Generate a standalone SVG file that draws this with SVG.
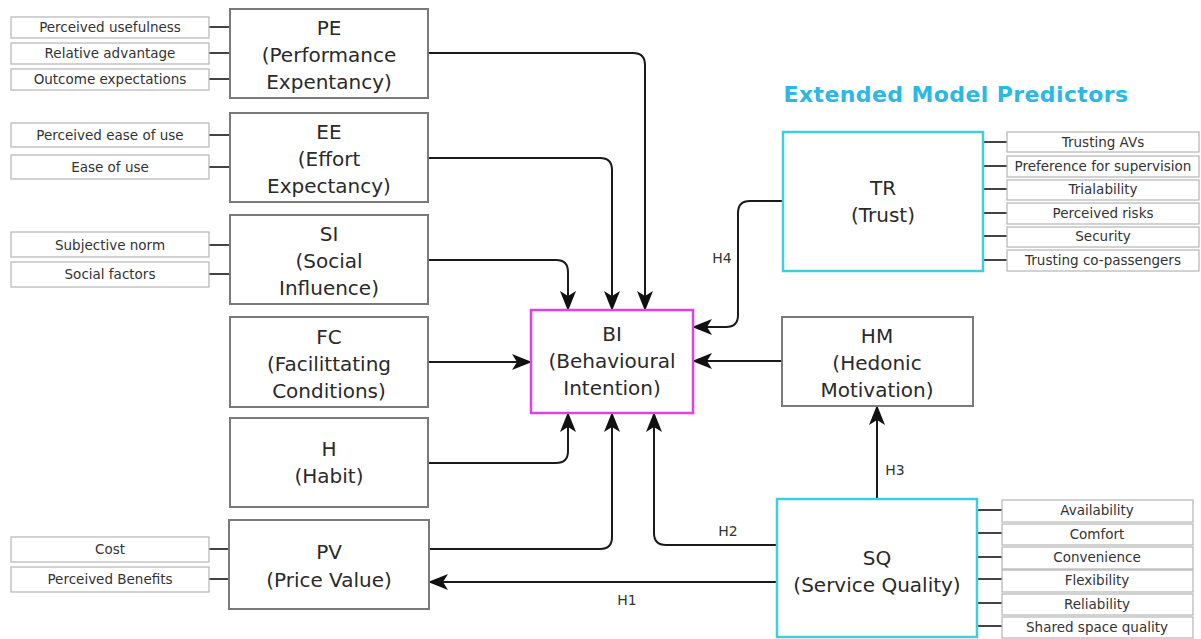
<svg xmlns="http://www.w3.org/2000/svg" width="1201" height="639" viewBox="0 0 1201 639">
<style>
.box{fill:#fff;stroke:#7a7a7a;stroke-width:2}
.ext{fill:#fff;stroke:#3fcde0;stroke-width:2.5}
.bi{fill:#fff;stroke:#e040e8;stroke-width:2.5}
.attr{fill:#fff;stroke:#b5b5b5;stroke-width:1.2}
.t{font-family:"DejaVu Sans","Liberation Sans",Arial,sans-serif;font-size:20px;fill:#2a2a2a;text-anchor:middle}
.a{font-family:"DejaVu Sans","Liberation Sans",Arial,sans-serif;font-size:13.5px;fill:#333;text-anchor:middle}
.lbl{font-family:"DejaVu Sans","Liberation Sans",Arial,sans-serif;font-size:14px;fill:#333;text-anchor:middle}
.stub{stroke:#444;stroke-width:2;fill:none}
.c{stroke:#1a1a1a;stroke-width:2;fill:none;marker-end:url(#arr)}
</style>
<defs>
<marker id="arr" markerUnits="userSpaceOnUse" viewBox="0 0 20 16" refX="19" refY="8" markerWidth="20" markerHeight="16" orient="auto">
<path d="M0,0 L20,8 L0,16 L5,8 Z" fill="#111"/>
</marker>
</defs>
<rect width="1201" height="639" fill="#fff"/>
<text x="956" y="102" font-family="DejaVu Sans,Liberation Sans,Arial,sans-serif" font-size="22" font-weight="bold" letter-spacing="0.4" fill="#2bb8e4" text-anchor="middle">Extended Model Predictors</text>

<g id="connectors">
<path class="c" d="M428,53 H633 Q645,53 645,65 V310"/>
<path class="c" d="M428,158 H600 Q612,158 612,170 V310"/>
<path class="c" d="M428,260 H556 Q568,260 568,272 V310"/>
<path class="c" d="M428,362 H531"/>
<path class="c" d="M428,463 H556 Q568,463 568,451 V413"/>
<path class="c" d="M429,549 H600 Q612,549 612,537 V413"/>
<path class="c" d="M777,545 H666 Q654,545 654,533 V413"/>
<path class="c" d="M777,582 H429"/>
<path class="c" d="M782,361 H693"/>
<path class="c" d="M877,499 V406"/>
<path class="c" d="M783,201 H750 Q738,201 738,213 V315 Q738,327 726,327 H693"/>
<text class="lbl" x="722" y="263">H4</text>
<text class="lbl" x="728" y="536">H2</text>
<text class="lbl" x="895" y="475">H3</text>
<text class="lbl" x="627" y="605">H1</text>
<g class="stub">
<path d="M209,27 H230 M209,53 H230 M209,79 H230"/>
<path d="M209,135 H230 M209,167 H230"/>
<path d="M209,245 H230 M209,274 H230"/>
<path d="M209,549 H229 M209,579 H229"/>
<path d="M983,142 H1007 M983,166 H1007 M983,189 H1007 M983,213 H1007 M983,236 H1007 M983,260 H1007"/>
<path d="M977,510 H1002 M977,533 H1002 M977,557 H1002 M977,579 H1002 M977,603 H1002 M977,626 H1002"/>
</g>
</g>

<g id="PE"><rect class="box" x="230" y="9" width="198" height="89"/>
<text class="t" x="329" y="35">PE</text><text class="t" x="329" y="62">(Performance</text><text class="t" x="329" y="89">Expentancy)</text></g>
<g id="EE"><rect class="box" x="230" y="113" width="198" height="89"/>
<text class="t" x="329" y="139">EE</text><text class="t" x="329" y="166">(Effort</text><text class="t" x="329" y="193">Expectancy)</text></g>
<g id="SI"><rect class="box" x="230" y="215" width="198" height="89"/>
<text class="t" x="329" y="241">SI</text><text class="t" x="329" y="268">(Social</text><text class="t" x="329" y="295">Influence)</text></g>
<g id="FC"><rect class="box" x="230" y="317" width="198" height="90"/>
<text class="t" x="329" y="344">FC</text><text class="t" x="329" y="371">(Facilittating</text><text class="t" x="329" y="398">Conditions)</text></g>
<g id="H"><rect class="box" x="230" y="418" width="198" height="89"/>
<text class="t" x="329" y="456">H</text><text class="t" x="329" y="483">(Habit)</text></g>
<g id="PV"><rect class="box" x="229" y="520" width="200" height="89"/>
<text class="t" x="329" y="559">PV</text><text class="t" x="329" y="587">(Price Value)</text></g>
<g id="BI"><rect class="bi" x="531" y="310" width="162" height="103"/>
<text class="t" x="612" y="341">BI</text><text class="t" x="612" y="368">(Behavioural</text><text class="t" x="612" y="395">Intention)</text></g>
<g id="HM"><rect class="box" x="782" y="317" width="191" height="89"/>
<text class="t" x="877" y="343">HM</text><text class="t" x="877" y="370">(Hedonic</text><text class="t" x="877" y="397">Motivation)</text></g>
<g id="TR"><rect class="ext" x="783" y="132" width="200" height="139"/>
<text class="t" x="883" y="195">TR</text><text class="t" x="883" y="222">(Trust)</text></g>
<g id="SQ"><rect class="ext" x="777" y="499" width="200" height="138"/>
<text class="t" x="877" y="565">SQ</text><text class="t" x="877" y="592">(Service Quality)</text></g>

<g id="PE-attrs">
<rect class="attr" x="11" y="17" width="198" height="21"/><text class="a" x="110" y="32">Perceived usefulness</text>
<rect class="attr" x="11" y="43" width="198" height="21"/><text class="a" x="110" y="58">Relative advantage</text>
<rect class="attr" x="11" y="69" width="198" height="21"/><text class="a" x="110" y="84">Outcome expectations</text>
</g>
<g id="EE-attrs">
<rect class="attr" x="11" y="123" width="198" height="24"/><text class="a" x="110" y="140">Perceived ease of use</text>
<rect class="attr" x="11" y="155" width="198" height="24"/><text class="a" x="110" y="172">Ease of use</text>
</g>
<g id="SI-attrs">
<rect class="attr" x="11" y="232" width="198" height="25"/><text class="a" x="110" y="250">Subjective norm</text>
<rect class="attr" x="11" y="262" width="198" height="25"/><text class="a" x="110" y="279">Social factors</text>
</g>
<g id="PV-attrs">
<rect class="attr" x="11" y="537" width="198" height="25"/><text class="a" x="110" y="554">Cost</text>
<rect class="attr" x="11" y="567" width="198" height="25"/><text class="a" x="110" y="584">Perceived Benefits</text>
</g>
<g id="TR-attrs">
<rect class="attr" x="1007" y="132" width="192" height="20"/><text class="a" x="1103" y="147">Trusting AVs</text>
<rect class="attr" x="1007" y="156" width="192" height="21"/><text class="a" x="1103" y="171">Preference for supervision</text>
<rect class="attr" x="1007" y="180" width="192" height="20"/><text class="a" x="1103" y="194">Trialability</text>
<rect class="attr" x="1007" y="203" width="192" height="21"/><text class="a" x="1103" y="218">Perceived risks</text>
<rect class="attr" x="1007" y="227" width="192" height="20"/><text class="a" x="1103" y="241">Security</text>
<rect class="attr" x="1007" y="250" width="192" height="21"/><text class="a" x="1103" y="265">Trusting co-passengers</text>
</g>
<g id="SQ-attrs">
<rect class="attr" x="1002" y="500" width="191" height="22"/><text class="a" x="1097" y="515">Availability</text>
<rect class="attr" x="1002" y="524" width="191" height="21"/><text class="a" x="1097" y="539">Comfort</text>
<rect class="attr" x="1002" y="547" width="191" height="22"/><text class="a" x="1097" y="562">Convenience</text>
<rect class="attr" x="1002" y="570" width="191" height="22"/><text class="a" x="1097" y="585">Flexibility</text>
<rect class="attr" x="1002" y="594" width="191" height="21"/><text class="a" x="1097" y="609">Reliability</text>
<rect class="attr" x="1002" y="617" width="191" height="21"/><text class="a" x="1097" y="632">Shared space quality</text>
</g>
</svg>
